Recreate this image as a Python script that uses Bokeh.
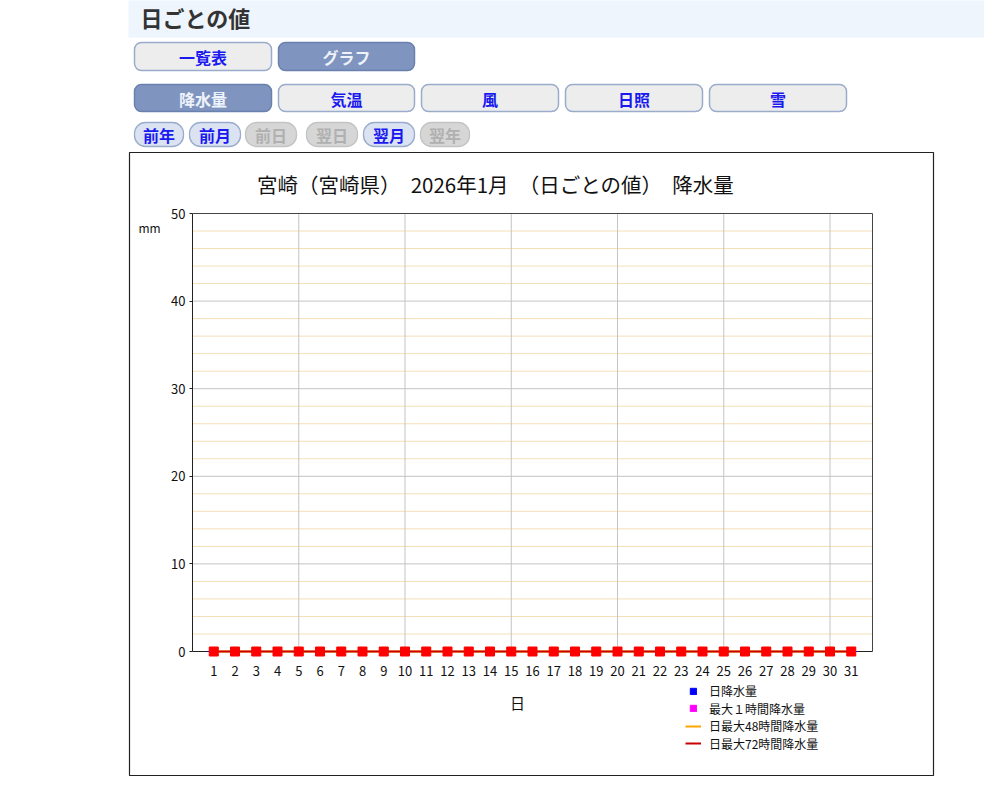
from bokeh.plotting import figure
from bokeh.models import (Range1d, FixedTicker, LinearAxis, BoxAnnotation, Label, Legend, LegendItem)
from bokeh.embed import file_html
from bokeh.resources import INLINE

# ---------------- data ----------------
days = [1, 2, 3, 4, 5, 6, 7, 8, 9, 10, 11, 12, 13, 14, 15, 16,
        17, 18, 19, 20, 21, 22, 23, 24, 25, 26, 27, 28, 29, 30, 31]
daily_precip = [0, 0, 0, 0, 0, 0, 0, 0, 0, 0, 0, 0, 0, 0, 0, 0,
                0, 0, 0, 0, 0, 0, 0, 0, 0, 0, 0, 0, 0, 0, 0]
max_1h_precip = [0, 0, 0, 0, 0, 0, 0, 0, 0, 0, 0, 0, 0, 0, 0, 0,
                 0, 0, 0, 0, 0, 0, 0, 0, 0, 0, 0, 0, 0, 0, 0]
max_48h_precip = [0, 0, 0, 0, 0, 0, 0, 0, 0, 0, 0, 0, 0, 0, 0, 0,
                  0, 0, 0, 0, 0, 0, 0, 0, 0, 0, 0, 0, 0, 0, 0]
max_72h_precip = [0, 0, 0, 0, 0, 0, 0, 0, 0, 0, 0, 0, 0, 0, 0, 0,
                  0, 0, 0, 0, 0, 0, 0, 0, 0, 0, 0, 0, 0, 0, 0]
y_ticks = [0, 10, 20, 30, 40, 50]
y_major_grid = [10, 20, 30, 40]
y_minor_grid = [2, 4, 6, 8, 12, 14, 16, 18, 22, 24, 26, 28, 32, 34, 36, 38, 42, 44, 46, 48]
x_grid_days = [5, 10, 15, 20, 25, 30]
legend_labels = ["日降水量", "最大１時間降水量", "日最大48時間降水量", "日最大72時間降水量"]
title_text = "宮崎（宮崎県）　2026年1月　（日ごとの値）　降水量"
page_heading = "日ごとの値"
view_buttons = ["一覧表", "グラフ"]
element_buttons = ["降水量", "気温", "風", "日照", "雪"]
nav_buttons = ["前年", "前月", "前日", "翌日", "翌月", "翌年"]

JP = "Noto Sans CJK JP"

# ---------------- geometry (page pixels) ----------------
W, H = 984, 786
FL, FR, FT, FB = 192, 872, 213, 651          # plot area
X0, X1, Y0, Y1 = 0, 32, 0, 50                # data extent of the plot area
ppx = (FR - FL) / (X1 - X0)
ppy = (FB - FT) / (Y1 - Y0)

p = figure(width=W, height=H, x_range=Range1d(0, W), y_range=Range1d(H, 0),
           x_axis_type=None, y_axis_type=None,
           output_backend="svg", toolbar_location=None, min_border=0,
           min_border_left=0, min_border_right=0, min_border_top=0, min_border_bottom=0,
           background_fill_color="white", border_fill_color="white", outline_line_color=None)
p.extra_x_ranges = {"day": Range1d(X0 - FL / ppx, X0 + (W - FL) / ppx)}
p.extra_y_ranges = {"mm": Range1d(Y0 - (H - FB) / ppy, Y0 + FB / ppy)}
RN = dict(x_range_name="day", y_range_name="mm")

# ---------------- grid ----------------
p.segment(x0=X0, x1=X1, y0=y_minor_grid, y1=y_minor_grid, line_color="#f5dfb8", line_width=1,
          level="underlay", **RN)
p.segment(x0=X0, x1=X1, y0=y_major_grid, y1=y_major_grid, line_color="#c4c4c4", line_width=1,
          level="underlay", **RN)
p.segment(x0=x_grid_days, x1=x_grid_days, y0=Y0, y1=Y1, line_color="#c4c4c4", line_width=1,
          level="underlay", **RN)

# ---------------- axes ----------------
xaxis = LinearAxis(fixed_location=0, bounds=(X0, X1), ticker=FixedTicker(ticks=days),
                   axis_line_color="#222222", major_tick_line_color=None, minor_tick_line_color=None,
                   major_tick_out=0, major_tick_in=0, major_label_standoff=14,
                   major_label_text_font=JP, major_label_text_font_size="13px",
                   major_label_text_color="#111111", level="underlay", **RN)
p.add_layout(xaxis, "below")
yaxis = LinearAxis(fixed_location=0, bounds=(Y0, Y1), ticker=FixedTicker(ticks=y_ticks),
                   axis_line_color="#222222", major_tick_line_color="#222222", minor_tick_line_color=None,
                   major_tick_out=3, major_tick_in=0, major_label_standoff=4,
                   major_label_text_font=JP, major_label_text_font_size="13px",
                   major_label_text_color="#111111", **RN)
p.add_layout(yaxis, "left")
top_ax = LinearAxis(fixed_location=Y1, bounds=(X0, X1), ticker=FixedTicker(ticks=[]),
                    axis_line_color="#444444", major_tick_line_color=None, minor_tick_line_color=None, **RN)
p.add_layout(top_ax, "above")
right_ax = LinearAxis(fixed_location=X1, bounds=(Y0, Y1), ticker=FixedTicker(ticks=[]),
                      axis_line_color="#444444", major_tick_line_color=None, minor_tick_line_color=None, **RN)
p.add_layout(right_ax, "right")

# ---------------- data glyphs ----------------
r_daily = p.vbar(x=days, top=daily_precip, width=0.6, color="blue", **RN)
r_1h = p.vbar(x=days, top=max_1h_precip, width=0.3, color="magenta", **RN)
r_48 = p.line(x=days, y=max_48h_precip, color="orange", line_width=2, **RN)
r_48m = p.scatter(x=days, y=max_48h_precip, marker="square", size=8, color="orange", **RN)
r_72 = p.line(x=days, y=max_72h_precip, color="#c80000", line_width=2, **RN)
r_72m = p.scatter(x=days, y=max_72h_precip, marker="square", size=9, color="red", **RN)

# legend: one small legend per row so that the row pitch matches the original
legend_rows = [(legend_labels[0], [r_daily], 8, 690.0),
               (legend_labels[1], [r_1h], 8, 707.5),
               (legend_labels[2], [r_48], 16, 725.0),
               (legend_labels[3], [r_72], 16, 742.5)]
for text, rends, gw, yc in legend_rows:
    glyph_left = 693 - gw // 2
    lg = Legend(items=[LegendItem(label=text, renderers=rends)],
                location=(glyph_left, H - (yc + 9)), border_line_color=None,
                background_fill_alpha=0, padding=0, margin=0, spacing=0,
                glyph_width=gw, glyph_height=gw, label_height=16,
                label_standoff=int(709 - (glyph_left + gw)), label_text_font=JP,
                label_text_font_size="12px", label_text_color="#111111")
    p.add_layout(lg)


# ---------------- page decorations (page px) ----------------
def box(l, t, r, b, fill, line, radius=0, lw=1.0):
    p.add_layout(BoxAnnotation(left=l, right=r, top=t, bottom=b,
                               fill_color=fill if fill else "white", fill_alpha=1 if fill else 0,
                               line_color=line, line_alpha=1, line_width=lw, border_radius=radius))


def label(x, y, text, size, color, bold=False, align="center"):
    p.add_layout(Label(x=x, y=y, text=text,
                       text_font=JP, text_font_size=size, text_color=color,
                       text_font_style="bold" if bold else "normal",
                       text_align=align, text_baseline="middle"))


# heading band
box(128, -2, 986, 37, "#eef5fd", None)
label(140, 16, page_heading, "22px", "#333333", bold=True, align="left")

BLUE_TXT = "#1a1af0"
ACT_FILL, ACT_LINE, ACT_TXT = "#7f95bf", "#6a80ae", "#eef2fa"
IN_FILL, IN_LINE = "#ededed", "#9aaccb"

vb_x = [(134, 271), (278, 414)]
for i, (l, r) in enumerate(vb_x):
    active = (i == 1)
    box(l, 42, r, 70, ACT_FILL if active else IN_FILL, ACT_LINE if active else IN_LINE, 7, 1.5)
    label((l + r) / 2, 56, view_buttons[i], "16px", ACT_TXT if active else BLUE_TXT, bold=True)

eb_x = [(134, 271), (278, 414), (421, 558), (565, 702), (709, 846)]
for i, (l, r) in enumerate(eb_x):
    active = (i == 0)
    box(l, 84, r, 111, ACT_FILL if active else IN_FILL, ACT_LINE if active else IN_LINE, 7, 1.5)
    label((l + r) / 2, 98, element_buttons[i], "16px", ACT_TXT if active else BLUE_TXT, bold=True)

nb_x = [(134, 183), (189, 240), (245, 296), (306, 357), (363, 414), (420, 469)]
nb_on = [True, True, False, False, True, False]
for i, (l, r) in enumerate(nb_x):
    on = nb_on[i]
    box(l, 122, r, 146, "#dbe3f2" if on else "#d6d6d6", "#9aaccb" if on else "#c4c4c4", 11, 1.3)
    label((l + r) / 2, 134, nav_buttons[i], "16px", BLUE_TXT if on else "#b0b0b0", bold=True)

# chart box and its texts
box(129, 152, 933, 775, None, "#222222", 0, 1.2)
label(495, 183, title_text, "20.5px", "#111111")
label(149, 227, "mm", "12px", "#111111")
label(517, 702, "日", "15px", "#111111")

open("out.html", "w").write(file_html(p, INLINE))
